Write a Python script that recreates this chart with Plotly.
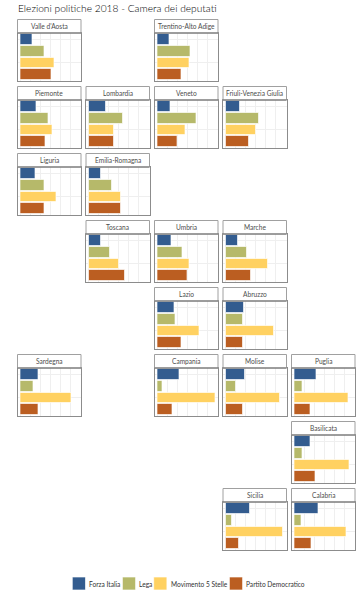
import plotly.graph_objects as go

title = "Elezioni politiche 2018 - Camera dei deputati"
parties = ["Forza Italia", "Lega", "Movimento 5 Stelle", "Partito Democratico"]
colors = ["#335c8f", "#b6b96a", "#ffd161", "#bb5e21"]
regions = ["Valle d'Aosta", "Trentino-Alto Adige", "Piemonte", "Lombardia", "Veneto",
           "Friuli-Venezia Giulia", "Liguria", "Emilia-Romagna", "Toscana", "Umbria",
           "Marche", "Lazio", "Abruzzo", "Sardegna", "Campania", "Molise", "Puglia",
           "Basilicata", "Sicilia", "Calabria"]
rows = [0, 0, 1, 1, 1, 1, 2, 2, 3, 3, 3, 4, 4, 5, 5, 5, 5, 6, 7, 7]
cols = [0, 2, 0, 1, 2, 3, 0, 1, 1, 2, 3, 2, 3, 0, 2, 3, 4, 4, 3, 4]
forza_italia = [10.0, 10.3, 14.0, 14.3, 11.1, 11.7, 13.1, 10.3, 10.5, 11.7, 10.3, 14.8, 15.4, 15.1, 18.8, 16.5, 19.1, 13.7, 20.8, 20.8]
lega = [20.8, 28.0, 23.7, 28.8, 33.3, 28.2, 20.8, 19.7, 18.2, 21.1, 18.0, 15.1, 14.8, 11.4, 4.5, 8.8, 6.8, 6.8, 5.1, 5.7]
m5s = [28.8, 27.1, 27.1, 21.4, 24.2, 25.7, 30.8, 27.4, 25.7, 27.6, 35.7, 35.9, 41.3, 43.6, 49.8, 45.9, 45.9, 47.3, 48.5, 44.5]
pd_ = [26.2, 20.8, 21.1, 21.1, 16.8, 19.7, 20.3, 27.6, 31.0, 25.7, 21.6, 20.5, 14.3, 15.1, 12.8, 14.3, 13.7, 17.7, 11.1, 14.3]
grid_breaks = [0, 8.55, 17.1, 25.65, 34.2, 42.75, 51.3]

W, H = 360, 600
COL_X = [17.5, 86.0, 154.5, 223.0, 291.5]
ROW_Y = [19.5, 86.5, 153.5, 220.5, 287.5, 354.5, 421.5, 488.5]
PW, STRIP, PH = 63.5, 13.5, 47.5
BORDER = "#8c8c8c"

fig = go.Figure()
shapes, annots = [], []
layout = {}
for i, name in enumerate(regions):
    n = "" if i == 0 else str(i + 1)
    x0 = COL_X[cols[i]]
    top = ROW_Y[rows[i]]
    y1 = top + STRIP
    y2 = y1 + PH
    vals = [forza_italia[i], lega[i], m5s[i], pd_[i]]
    fig.add_trace(go.Bar(
        x=vals, y=parties, orientation="h", width=0.89, showlegend=False,
        marker=dict(color=colors, line=dict(color="rgba(255,255,255,0.65)", width=1)),
        xaxis="x" + n, yaxis="y" + n, hovertemplate="%{y}: %{x}<extra>" + name + "</extra>"))
    layout["xaxis" + n] = dict(
        domain=[x0 / W, (x0 + PW) / W], anchor="y" + n, range=[-2.47, 51.87],
        tickmode="array", tickvals=grid_breaks, showticklabels=False, ticks="",
        showgrid=True, gridcolor="#efefef", gridwidth=1, zeroline=False,
        showline=True, mirror=True, linecolor=BORDER, linewidth=1)
    layout["yaxis" + n] = dict(
        domain=[1 - y2 / H, 1 - y1 / H], anchor="x" + n, type="category",
        categoryorder="array", categoryarray=parties, range=[3.5, -0.57],
        showticklabels=False, ticks="", showgrid=True, gridcolor="#efefef",
        gridwidth=1, zeroline=False, showline=True, mirror=True,
        linecolor=BORDER, linewidth=1)
    shapes.append(dict(type="rect", xref="paper", yref="paper", layer="above",
                       x0=x0 / W, x1=(x0 + PW) / W, y0=1 - y1 / H, y1=1 - top / H,
                       fillcolor="white", line=dict(color="#a0a0a0", width=1)))
    shapes.append(dict(type="line", xref="paper", yref="paper", layer="above",
                       x0=x0 / W, x1=(x0 + PW) / W, y0=1 - y1 / H, y1=1 - y1 / H,
                       line=dict(color="#6a6a6a", width=1)))
    annots.append(dict(text=name, xref="paper", yref="paper", showarrow=False,
                       x=(x0 + PW / 2) / W, y=1 - (top + STRIP / 2) / H,
                       xanchor="center", yanchor="middle",
                       font=dict(family="Lato", size=6.6, color="#4d4d4d")))

KEY_X = [72.3, 122.4, 153.7, 229.4]
LABEL_X = [87.6, 137.6, 169.6, 244.6]
KY0, KY1 = 577.0, 590.0
for k, p in enumerate(parties):
    shapes.append(dict(type="rect", xref="paper", yref="paper",
                       x0=KEY_X[k] / W, x1=(KEY_X[k] + 13.2) / W,
                       y0=1 - KY1 / H, y1=1 - KY0 / H, fillcolor=colors[k],
                       line=dict(color="rgba(255,255,255,0.65)", width=1)))
    annots.append(dict(text=p, xref="paper", yref="paper", showarrow=False,
                       x=LABEL_X[k] / W, y=1 - 583.5 / H, xanchor="left", yanchor="middle",
                       xshift=-1,
                       font=dict(family="Lato", size=6.6, color="#333333")))

annots.append(dict(text=title, xref="paper", yref="paper", showarrow=False,
                   x=16.5 / W, y=1 - 8.0 / H, xanchor="left", yanchor="middle", xshift=-1,
                   font=dict(family="Lato", size=10.2, weight=300, color="#000000")))

fig.update_layout(width=W, height=H, margin=dict(l=0, r=0, t=0, b=0, pad=0),
                  paper_bgcolor="white", plot_bgcolor="white", showlegend=False,
                  shapes=shapes, annotations=annots, bargap=0, **layout)
fig.write_html("out.html", config={"displayModeBar": False},
               post_script="document.body.style.margin='0';document.documentElement.style.overflow='hidden';")
